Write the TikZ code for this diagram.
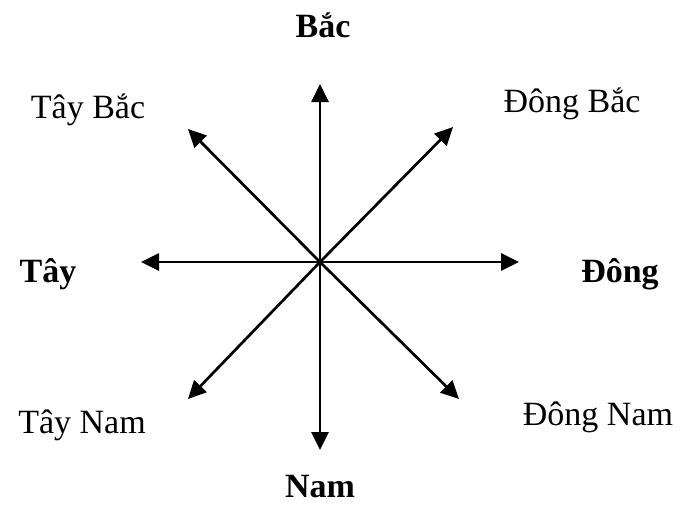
\documentclass[tikz,border=0pt]{standalone}
\usepackage{fontspec}
\setmainfont{Liberation Serif}
\usetikzlibrary{arrows.meta}

\begin{document}
\begin{tikzpicture}[x=1pt,y=-1pt,arr/.style = {line width=2.7pt,-{Triangle[length=18pt,width=17pt]}},lbl/.style = {inner sep=0pt,anchor=base,font=\fontsize{34}{40}\selectfont},dir/.style = {lbl,font=\fontsize{34}{40}\selectfont\bfseries}]
\useasboundingbox (0,0) rectangle (687,506);
\coordinate (o) at (320,262);
\coordinate (n) at (320,84);
\coordinate (s) at (320,450);
\coordinate (w) at (141,262);
\coordinate (e) at (519,262);
\coordinate (ne) at (453,127);
\coordinate (nw) at (188,129);
\coordinate (sw) at (188,399);
\coordinate (se) at (459,399);
\node[dir] (bac) at (323,37) {Bắc};
\node[dir] (nam) at (320,497) {Nam};
\node[dir] (tay) at (48,282) {Tây};
\node[dir] (dong) at (620,282) {Đông};
\node[lbl] (taybac) at (88,118) {Tây Bắc};
\node[lbl] (dongbac) at (572,112) {Đông Bắc};
\node[lbl] (taynam) at (82,433) {Tây Nam};
\node[lbl] (dongnam) at (598,425) {Đông Nam};
\draw[arr] (o) -- (n);
\draw[arr] (o) -- (s);
\draw[arr] (o) -- (w);
\draw[arr] (o) -- (e);
\draw[arr] (o) -- (ne);
\draw[arr] (o) -- (nw);
\draw[arr] (o) -- (sw);
\draw[arr] (o) -- (se);
\end{tikzpicture}
\end{document}
